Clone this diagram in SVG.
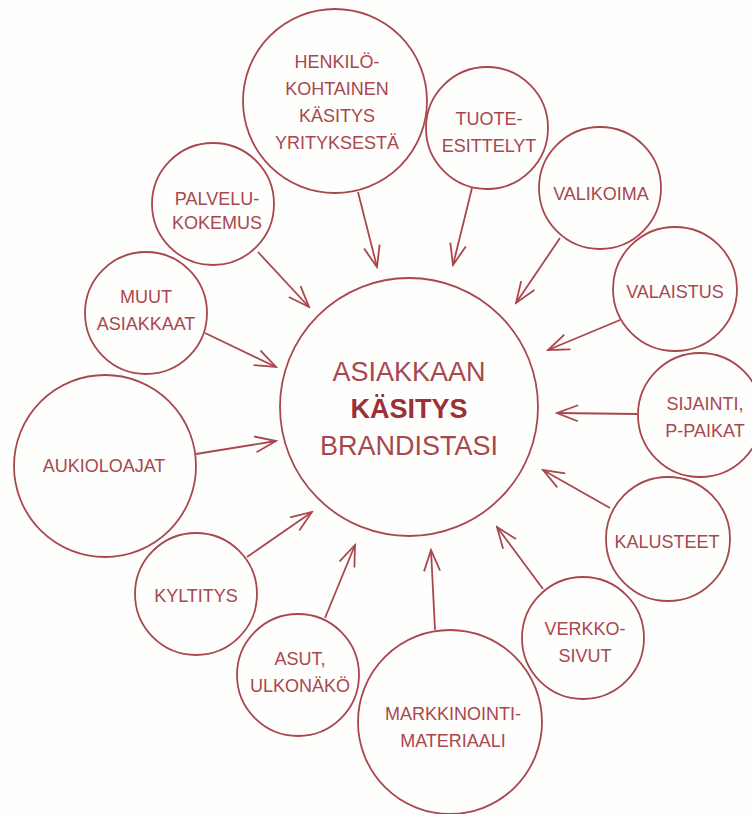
<svg xmlns="http://www.w3.org/2000/svg" width="752" height="814" viewBox="0 0 752 814">
<defs>
<style>
.n circle{fill:none;stroke:#a9474e;stroke-width:1.8}
.n text{font-family:"Liberation Sans",Arial,sans-serif;font-size:18px;fill:#a9474e;text-anchor:middle}
.c text{font-size:27px}
.c .b{font-weight:bold;fill:#9c3038}
#connectors line{stroke:#a9474e;stroke-width:1.8;fill:none;marker-end:url(#arr)}
</style>
<marker id="arr" markerUnits="userSpaceOnUse" viewBox="-24 -10 26 20" refX="0" refY="0" markerWidth="26" markerHeight="20" orient="auto">
<path d="M-21 -8 L0 0 L-21 8" fill="none" stroke="#a9474e" stroke-width="1.8"/>
</marker>
</defs>
<rect width="752" height="814" fill="#fefefc"/>
<g id="connectors">
<line x1="358" y1="192" x2="377" y2="267"/>
<line x1="472" y1="188" x2="453" y2="265"/>
<line x1="560" y1="238" x2="516" y2="303"/>
<line x1="620" y1="320" x2="548" y2="350"/>
<line x1="637" y1="414" x2="557" y2="413"/>
<line x1="610" y1="508" x2="543" y2="470"/>
<line x1="543" y1="589" x2="497" y2="527"/>
<line x1="435" y1="630" x2="431" y2="550"/>
<line x1="325" y1="618" x2="355" y2="545"/>
<line x1="247" y1="557" x2="312" y2="512"/>
<line x1="196" y1="454" x2="276" y2="441"/>
<line x1="205" y1="333" x2="276" y2="367"/>
<line x1="258" y1="252" x2="309" y2="307"/>
</g>
<g id="center" class="n c">
<circle cx="409" cy="407" r="129"/>
<text x="409" y="381">ASIAKKAAN</text>
<text x="409" y="418" class="b">KÄSITYS</text>
<text x="409" y="455">BRANDISTASI</text>
</g>
<g id="henkilokohtainen" class="n">
<circle cx="335" cy="101" r="92"/>
<text x="337" y="68">HENKILÖ-</text>
<text x="337" y="95">KOHTAINEN</text>
<text x="337" y="122">KÄSITYS</text>
<text x="337" y="149">YRITYKSESTÄ</text>
</g>
<g id="tuote" class="n">
<circle cx="487" cy="128" r="61"/>
<text x="489" y="125">TUOTE-</text>
<text x="489" y="152">ESITTELYT</text>
</g>
<g id="valikoima" class="n">
<circle cx="600" cy="188" r="61"/>
<text x="601" y="200">VALIKOIMA</text>
</g>
<g id="valaistus" class="n">
<circle cx="675" cy="289" r="62"/>
<text x="675" y="298">VALAISTUS</text>
</g>
<g id="sijainti" class="n">
<circle cx="700" cy="415" r="62"/>
<text x="705" y="410">SIJAINTI,</text>
<text x="705" y="437">P-PAIKAT</text>
</g>
<g id="kalusteet" class="n">
<circle cx="668" cy="539" r="62"/>
<text x="667" y="548">KALUSTEET</text>
</g>
<g id="verkkosivut" class="n">
<circle cx="583" cy="638" r="61"/>
<text x="585" y="635">VERKKO-</text>
<text x="585" y="662">SIVUT</text>
</g>
<g id="markkinointi" class="n">
<circle cx="450" cy="722" r="92"/>
<text x="453" y="720">MARKKINOINTI-</text>
<text x="453" y="747">MATERIAALI</text>
</g>
<g id="asut" class="n">
<circle cx="298" cy="675" r="61"/>
<text x="300" y="665">ASUT,</text>
<text x="300" y="692">ULKONÄKÖ</text>
</g>
<g id="kyltitys" class="n">
<circle cx="196" cy="594" r="61"/>
<text x="196" y="602">KYLTITYS</text>
</g>
<g id="aukioloajat" class="n">
<circle cx="105" cy="466" r="91"/>
<text x="104" y="472">AUKIOLOAJAT</text>
</g>
<g id="muut" class="n">
<circle cx="146" cy="313" r="61"/>
<text x="146" y="303">MUUT</text>
<text x="146" y="330">ASIAKKAAT</text>
</g>
<g id="palvelu" class="n">
<circle cx="213" cy="204" r="61"/>
<text x="217" y="205">PALVELU-</text>
<text x="217" y="229">KOKEMUS</text>
</g>
</svg>
